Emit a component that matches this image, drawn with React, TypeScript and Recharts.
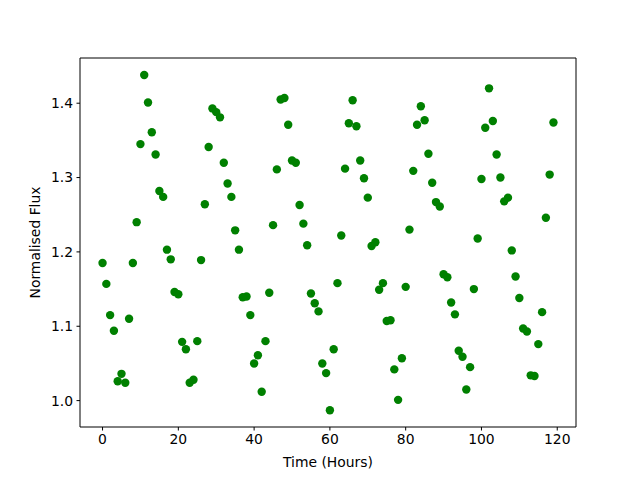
import React from 'react';
import { ScatterChart, Scatter, XAxis, YAxis, Label, ReferenceLine } from 'recharts';

// Hours along the x axis
const hours = [
  0, 1, 2, 3, 4, 5, 6, 7, 8, 9, 10, 11, 12, 13, 14, 15, 16, 17, 18, 19,
  20, 21, 22, 23, 24, 25, 26, 27, 28, 29, 30, 31, 32, 33, 34, 35, 36, 37, 38, 39,
  40, 41, 42, 43, 44, 45, 46, 47, 48, 49, 50, 51, 52, 53, 54, 55, 56, 57, 58, 59,
  60, 61, 62, 63, 64, 65, 66, 67, 68, 69, 70, 71, 72, 73, 74, 75, 76, 77, 78, 79,
  80, 81, 82, 83, 84, 85, 86, 87, 88, 89, 90, 91, 92, 93, 94, 95, 96, 97, 98, 99,
  100, 101, 102, 103, 104, 105, 106, 107, 108, 109, 110, 111, 112, 113, 114, 115, 116, 117, 118, 119,
];

// Normalised flux
const flux = [
  1.185, 1.157, 1.115, 1.094, 1.026, 1.036, 1.024, 1.110, 1.185, 1.240,
  1.345, 1.438, 1.401, 1.361, 1.331, 1.282, 1.274, 1.203, 1.190, 1.146,
  1.143, 1.079, 1.069, 1.024, 1.028, 1.080, 1.189, 1.264, 1.341, 1.393,
  1.388, 1.381, 1.320, 1.292, 1.274, 1.229, 1.203, 1.139, 1.140, 1.115,
  1.050, 1.061, 1.012, 1.080, 1.145, 1.236, 1.311, 1.405, 1.407, 1.371,
  1.323, 1.320, 1.263, 1.238, 1.209, 1.144, 1.131, 1.120, 1.050, 1.037,
  0.987, 1.069, 1.158, 1.222, 1.312, 1.373, 1.404, 1.369, 1.323, 1.299,
  1.273, 1.208, 1.213, 1.149, 1.158, 1.107, 1.108, 1.042, 1.001, 1.057,
  1.153, 1.230, 1.309, 1.371, 1.396, 1.377, 1.332, 1.293, 1.267, 1.261,
  1.170, 1.166, 1.132, 1.116, 1.067, 1.059, 1.015, 1.045, 1.150, 1.218,
  1.298, 1.367, 1.420, 1.376, 1.331, 1.300, 1.268, 1.273, 1.202, 1.167,
  1.138, 1.097, 1.093, 1.034, 1.033, 1.076, 1.119, 1.246, 1.304, 1.374,
];

const xTicks = [0, 20, 40, 60, 80, 100, 120];
const yTicks = [1.0, 1.1, 1.2, 1.3, 1.4];
const xDomain = [-5.95, 124.95];
const yDomain = [0.9645, 1.4608];

const points = hours.map((h, i) => ({ x: h, y: flux[i] }));

const FONT = 'DejaVu Sans';
const tickStyle = { fontFamily: FONT, fontSize: 13.9, fill: '#000' };

const Dot = (props: any) => <circle cx={props.cx} cy={props.cy} r={4.2} fill="#008000" />;

const XLabel = ({ viewBox }: any) => (
  <text x={viewBox.x + viewBox.width / 2} y={467} textAnchor="middle"
    fontFamily={FONT} fontSize={13.9} fill="#000">Time (Hours)</text>
);

const YLabel = ({ viewBox }: any) => {
  const cy = viewBox.y + viewBox.height / 2;
  return (
    <text x={40} y={cy} transform={`rotate(-90 40 ${cy})`} textAnchor="middle"
      fontFamily={FONT} fontSize={13.9} fill="#000">Normalised Flux</text>
  );
};

export default function App() {
  return (
    <div style={{ position: 'absolute', left: 0, top: 0, width: 640, height: 480, background: '#fff' }}>
      <ScatterChart width={640} height={480} margin={{ top: 58, right: 64, bottom: 0, left: 0 }}>
        <XAxis dataKey="x" type="number" domain={xDomain} ticks={xTicks}
          allowDataOverflow tickSize={3.5} tickMargin={3.5} height={53}
          stroke="#000" tick={tickStyle} tickLine={{ stroke: '#000' }}>
          <Label content={<XLabel />} />
        </XAxis>
        <YAxis dataKey="y" type="number" domain={yDomain} ticks={yTicks}
          allowDataOverflow tickSize={3.5} tickMargin={3.5} width={80}
          tickFormatter={(v: number) => v.toFixed(1)}
          stroke="#000" tick={tickStyle} tickLine={{ stroke: '#000' }}>
          <Label content={<YLabel />} />
        </YAxis>
        <ReferenceLine y={yDomain[1]} stroke="#000" />
        <ReferenceLine x={xDomain[1]} stroke="#000" />
        <Scatter data={points} shape={<Dot />} isAnimationActive={false} />
      </ScatterChart>
    </div>
  );
}
